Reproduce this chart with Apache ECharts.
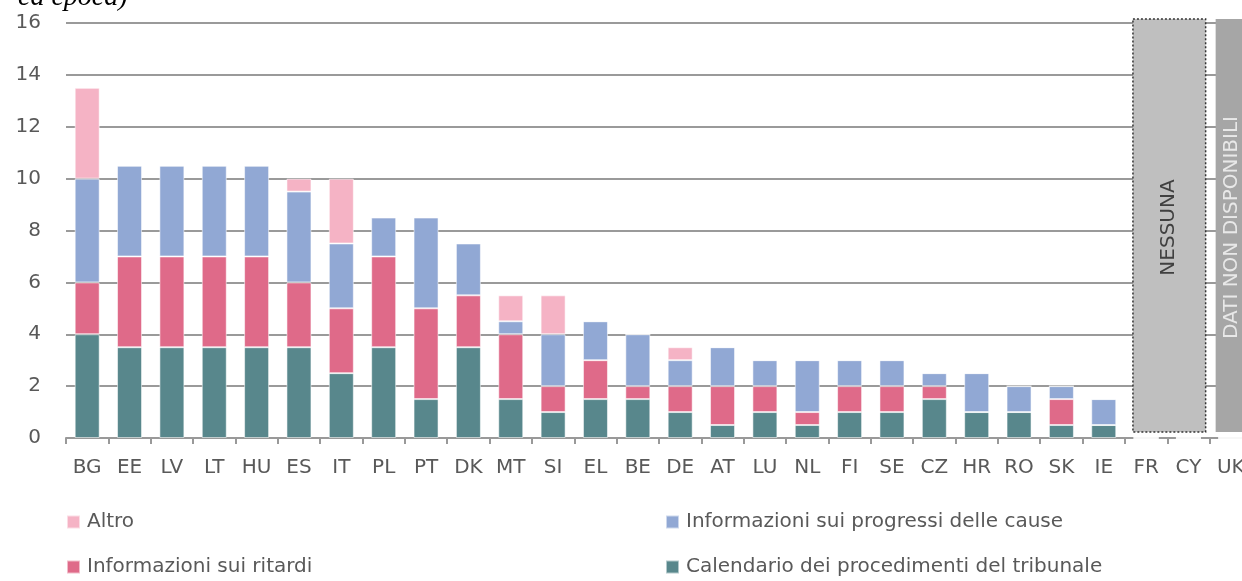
<!DOCTYPE html>
<html>
<head>
<meta charset="utf-8">
<script src="https://cdn.jsdelivr.net/npm/echarts@6/dist/echarts.min.js"></script>
<style>
html,body{margin:0;padding:0;background:#fff;}
#c{width:1242px;height:581px;}
</style>
</head>
<body>
<div id="c"></div>
<script>
var categories = ['BG','EE','LV','LT','HU','ES','IT','PL','PT','DK','MT','SI','EL','BE','DE','AT','LU','NL','FI','SE','CZ','HR','RO','SK','IE','FR','CY','UK'];
var calendario = [4,3.5,3.5,3.5,3.5,3.5,2.5,3.5,1.5,3.5,1.5,1,1.5,1.5,1,0.5,1,0.5,1,1,1.5,1,1,0.5,0.5,0,0,0];
var ritardi    = [2,3.5,3.5,3.5,3.5,2.5,2.5,3.5,3.5,2,2.5,1,1.5,0.5,1,1.5,1,0.5,1,1,0.5,0,0,1,0,0,0,0];
var progressi  = [4,3.5,3.5,3.5,3.5,3.5,2.5,1.5,3.5,2,0.5,2,1.5,2,1,1.5,1,2,1,1,0.5,1.5,1,0.5,1,0,0,0];
var altro      = [3.5,0,0,0,0,0.5,2.5,0,0,0,1,1.5,0,0,0.5,0,0,0,0,0,0,0,0,0,0,0,0,0];
var boxStart   = [25, 27];
var boxEnd     = [26, 27];
var boxLabels  = ['NESSUNA', 'DATI NON DISPONIBILI'];
var yTicks     = [0,2,4,6,8,10,12,14,16];

var FONT = 'DejaVu Sans';
var names = {
  altro: 'Altro',
  prog: 'Informazioni sui progressi delle cause',
  rit: 'Informazioni sui ritardi',
  cal: 'Calendario dei procedimenti del tribunale'
};
var colors = {altro:'#F5B3C5', prog:'#91A8D4', rit:'#DF6A89', cal:'#58878C'};

var chart = echarts.init(document.getElementById('c'));
function barSeries(name, data, color){
  return {
    name: name, type: 'bar', stack: 'tot', data: data, barWidth: 25,
    itemStyle: {color: color, borderColor: 'rgba(255,255,255,0.55)', borderWidth: 1},
    emphasis: {disabled: true}
  };
}
function leg(name, left, top){
  return {
    data: [name], left: left, top: top, itemWidth: 13, itemHeight: 13, icon: 'rect',
    selectedMode: false, padding: 0,
    textStyle: {fontFamily: FONT, fontSize: 20, color: '#595959', padding: [0,0,0,2]}
  };
}
var option = {
  animation: false,
  grid: {left: 66, top: 23, height: 415, width: 1186, containLabel: false, outerBoundsMode: 'none'},
  legend: [
    leg(names.altro, 66, 512),
    leg(names.prog, 665, 512),
    leg(names.rit, 66, 557),
    leg(names.cal, 665, 557)
  ],
  graphic: [{
    type: 'text', left: 18, top: -16,
    style: {text: 'ca epoca)', font: 'italic 28px "Liberation Serif"', fill: '#000'}
  }],
  xAxis: {
    type: 'category', data: categories,
    axisLine: {lineStyle: {color: '#999', width: 2}},
    axisTick: {show: true, length: 6, lineStyle: {color: '#999', width: 2}},
    axisLabel: {interval: 0, fontFamily: FONT, fontSize: 20, color: '#595959', margin: 20}
  },
  yAxis: {
    type: 'value', min: yTicks[0], max: yTicks[yTicks.length-1], interval: 2,
    axisLine: {show: false}, axisTick: {show: false},
    axisLabel: {fontFamily: FONT, fontSize: 20, color: '#595959', margin: 25},
    splitLine: {lineStyle: {color: '#9a9a9a', width: 2}}
  },
  series: [
    barSeries(names.cal, calendario, colors.cal),
    barSeries(names.rit, ritardi, colors.rit),
    barSeries(names.prog, progressi, colors.prog),
    barSeries(names.altro, altro, colors.altro),
    {
      type: 'custom', z: 5, silent: true,
      data: boxStart.map(function(s, i){ return [s, boxEnd[i], 16]; }),
      encode: {x: [0,1], y: 2},
      renderItem: function(params, api){
        var i = params.dataIndex;
        var bw = api.size([1, 0])[0];
        var pS = api.coord([api.value(0), api.value(2)]);
        var pE = api.coord([api.value(1), 0]);
        var x0, x1, fill, txtColor, dashed;
        if (i === 0) {
          x0 = pS[0] - bw/2 + 8; x1 = pE[0] + bw/2 - 4;
          fill = '#BFBFBF'; txtColor = '#404040'; dashed = true;
        } else {
          x0 = pS[0] - bw/2 + 6; x1 = pE[0] + bw/2;
          fill = '#A6A6A6'; txtColor = '#E8E8E8'; dashed = false;
        }
        var y0 = pS[1] - 4, y1 = pE[1] - 6;
        return {
          type: 'group',
          children: [
            {type: 'rect', shape: {x: x0, y: y0, width: x1 - x0, height: y1 - y0},
             style: dashed ? {fill: fill, stroke: '#333', lineWidth: 1.5, lineDash: [2,2]} : {fill: fill}},
            {type: 'text', x: (i === 0 ? (x0 + x1)/2 : x0 + 16), y: (y0 + y1)/2 + 2, rotation: Math.PI/2,
             style: {text: boxLabels[i], fontFamily: FONT, fontSize: 20, fill: txtColor, align: 'center', verticalAlign: 'middle'}}
          ]
        };
      }
    }
  ]
};
chart.setOption(option);
</script>
</body>
</html>
